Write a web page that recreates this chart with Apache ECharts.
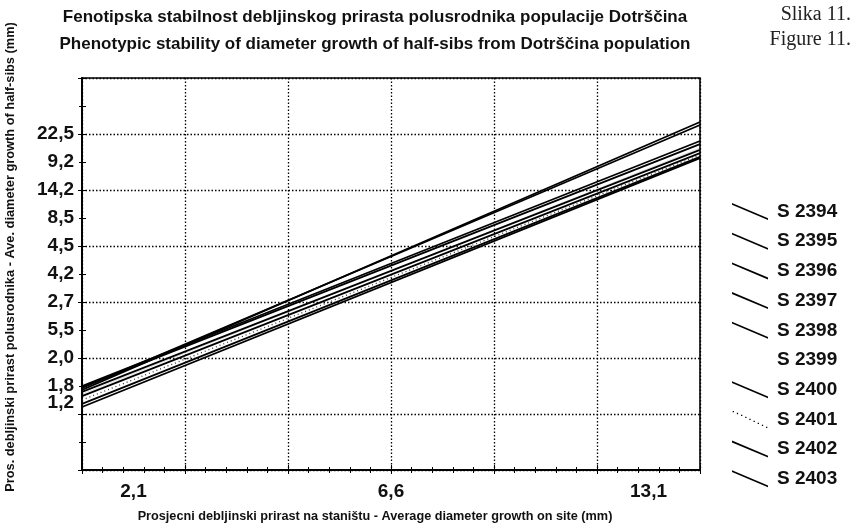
<!DOCTYPE html>
<html>
<head>
<meta charset="utf-8">
<title>Fenotipska stabilnost debljinskog prirasta</title>
<script src="https://cdn.jsdelivr.net/npm/echarts@6/dist/echarts.min.js"></script>
<style>
  html, body { margin: 0; padding: 0; background: #fff; }
  #chart { width: 868px; height: 527px; }
</style>
</head>
<body>
<div id="chart"></div>
<script>
// families (half-sibs) and their regression lines: value at the low and high end of the site axis
const seriesNames = ['S 2394', 'S 2395', 'S 2396', 'S 2397', 'S 2398', 'S 2399', 'S 2400', 'S 2401', 'S 2402', 'S 2403']
const siteRange = [0, 6]
const startValues = [2.86, 2.93, 3.0, 2.96, 2.79, 2.71, 2.64, 2.5, 2.36, 2.25]
const endValues = [12.43, 12.32, 11.75, 11.64, 11.43, 11.5, 11.32, 11.25, 11.18, 11.14]

// tick labels as printed on the original figure
const xTickPos = [0.5, 3, 5.5]
const xTickLabels = ['2,1', '6,6', '13,1']
const yTickPos = [2.4, 3, 4, 5, 6, 7, 8, 9, 10, 11, 12]
const yTickLabels = ['1,2', '1,8', '2,0', '5,5', '2,7', '4,2', '4,5', '8,5', '14,2', '9,2', '22,5']

const FONT = '"Liberation Sans", Arial, sans-serif'
const SERIF = '"Liberation Serif", "DejaVu Serif", serif'

const pickLabel = (pos, labels) => (value) => {
  const i = pos.findIndex(p => Math.abs(p - value) < 1e-6)
  return i >= 0 ? labels[i] : ''
}

const lineIcon = 'path://M0,0 L36,15.2 L36,17 L0,1.8 Z'
const dotIcon = (() => {
  let d = ''
  for (let i = 0; i < 9; i++) {
    const x = i * 4.3
    const y = x * 17 / 36
    d += `M${x.toFixed(2)},${y.toFixed(2)}h1.3v1.3h-1.3z `
  }
  return 'path://' + d
})()

const chart = echarts.init(document.getElementById('chart'))

const series = seriesNames.map((name, i) => {
  const s = {
    name,
    type: 'line',
    xAxisIndex: 0,
    yAxisIndex: 0,
    symbol: 'none',
    silent: true,
    color: '#000',
    lineStyle: { color: '#000', width: 1.8 },
    data: [[siteRange[0], startValues[i]], [siteRange[1], endValues[i]]]
  }
  if (name === 'S 2401') s.lineStyle = { color: '#333', width: 1.3, type: [1, 3] }
  if (name === 'S 2399') s.lineStyle = { color: '#000', width: 1, opacity: 0.12 }
  return s
})

const legendData = seriesNames.map(name => {
  if (name === 'S 2401') return { name, icon: dotIcon }
  if (name === 'S 2399') return { name, icon: lineIcon, itemStyle: { opacity: 0 } }
  return { name, icon: lineIcon }
})

const tickLine = { color: '#000', width: 1 }

chart.setOption({
  backgroundColor: '#fff',
  animation: false,
  grid: {
    left: 82, right: 168, top: 78, bottom: 57,
    show: true, borderColor: '#000', borderWidth: 1.6, backgroundColor: 'transparent'
  },
  legend: {
    orient: 'vertical',
    left: 727,
    top: 197,
    itemWidth: 36,
    itemHeight: 17,
    itemGap: 10.7,
    selectedMode: false,
    textStyle: { fontFamily: FONT, fontSize: 19, fontWeight: 'bold', color: '#111', padding: [0, 0, 0, 4] },
    data: legendData
  },
  xAxis: [
    {
      type: 'value', position: 'bottom', min: siteRange[0], max: siteRange[1], interval: 1,
      axisLine: { show: true, lineStyle: { color: '#000', width: 1.6 } },
      axisTick: { show: true, inside: true, length: 5, lineStyle: tickLine },
      minorTick: { show: true, splitNumber: 5, length: 3, lineStyle: tickLine },
      axisLabel: { show: false },
      splitLine: { show: true, lineStyle: { color: '#000', width: 1.3, type: [1.5, 2] } }
    },
    {
      type: 'value', position: 'bottom', min: siteRange[0], max: siteRange[1], interval: 0.5,
      axisLine: { show: false }, axisTick: { show: false }, splitLine: { show: false },
      axisLabel: {
        show: true, margin: 12, fontFamily: FONT, fontSize: 19, fontWeight: 'bold', color: '#111',
        formatter: pickLabel(xTickPos, xTickLabels)
      }
    },
    {
      type: 'value', position: 'top', min: siteRange[0], max: siteRange[1], interval: 1,
      axisLine: { show: true, lineStyle: { color: '#000', width: 1.6 } },
      axisTick: { show: true, inside: true, length: 4, lineStyle: tickLine },
      minorTick: { show: true, splitNumber: 5, length: 3, lineStyle: tickLine },
      axisLabel: { show: false }, splitLine: { show: false }
    }
  ],
  yAxis: [
    {
      type: 'value', position: 'left', min: 0, max: 14, interval: 2,
      axisLine: { show: true, lineStyle: { color: '#000', width: 1.6 } },
      axisTick: { show: true, inside: true, length: 4, lineStyle: tickLine },
      minorTick: { show: true, splitNumber: 2, length: 4, lineStyle: tickLine },
      axisLabel: { show: false },
      splitLine: { show: true, lineStyle: { color: '#000', width: 1.3, type: [1.5, 2] } }
    },
    {
      type: 'value', position: 'left', min: 0, max: 14, interval: 0.1,
      axisLine: { show: false }, axisTick: { show: false }, splitLine: { show: false },
      axisLabel: {
        show: true, margin: 8, fontFamily: FONT, fontSize: 19, fontWeight: 'bold', color: '#111',
        formatter: pickLabel(yTickPos, yTickLabels)
      }
    },
    {
      type: 'value', position: 'right', min: 0, max: 14, interval: 2,
      axisLine: { show: true, lineStyle: { color: '#000', width: 1.8 } },
      axisTick: { show: true, inside: true, length: 4, lineStyle: tickLine },
      minorTick: { show: true, splitNumber: 2, length: 3, lineStyle: tickLine },
      axisLabel: { show: false }, splitLine: { show: false }
    }
  ],
  graphic: [
    {
      type: 'text', x: 375, y: 17,
      style: {
        text: 'Fenotipska stabilnost debljinskog prirasta polusrodnika populacije Dotrščina',
        font: `bold 17px ${FONT}`, fill: '#111', align: 'center', verticalAlign: 'middle'
      }
    },
    {
      type: 'text', x: 375, y: 44,
      style: {
        text: 'Phenotypic stability of diameter growth of half-sibs from Dotrščina population',
        font: `bold 17px ${FONT}`, fill: '#111', align: 'center', verticalAlign: 'middle'
      }
    },
    {
      type: 'text', x: 851, y: 15,
      style: { text: 'Slika 11.', font: `20px ${SERIF}`, fill: '#222', align: 'right', verticalAlign: 'middle' }
    },
    {
      type: 'text', x: 851, y: 40,
      style: { text: 'Figure 11.', font: `20px ${SERIF}`, fill: '#222', align: 'right', verticalAlign: 'middle' }
    },
    {
      type: 'text', x: 375, y: 516,
      style: {
        text: 'Prosjecni debljinski prirast na staništu - Average diameter growth on site (mm)',
        font: `bold 12.7px ${FONT}`, fill: '#111', align: 'center', verticalAlign: 'middle'
      }
    },
    {
      type: 'text', x: 10, y: 257, rotation: Math.PI / 2,
      style: {
        text: 'Pros. debljinski prirast polusrodnika - Ave. diameter growth of half-sibs (mm)',
        font: `bold 12.8px ${FONT}`, fill: '#111', align: 'center', verticalAlign: 'middle'
      }
    }
  ],
  series
})

window.addEventListener('resize', () => chart.resize())
</script>
</body>
</html>
